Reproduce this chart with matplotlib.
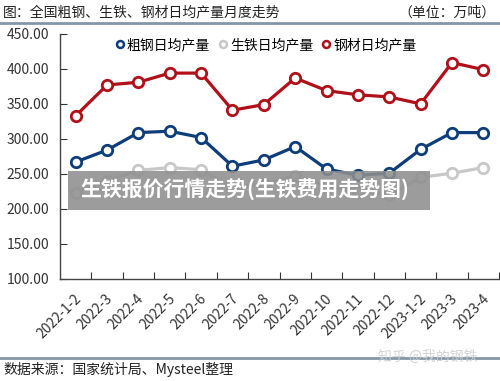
import matplotlib
matplotlib.use("Agg")
import matplotlib.pyplot as plt
from matplotlib.patches import Rectangle
from matplotlib.lines import Line2D

plt.rcParams["font.family"] = ["Noto Sans CJK SC", "DejaVu Sans"]

# 数据（万吨/日）
months = ["2022-1-2", "2022-3", "2022-4", "2022-5", "2022-6", "2022-7", "2022-8",
          "2022-9", "2022-10", "2022-11", "2022-12", "2023-1-2", "2023-3", "2023-4"]
crude_steel = [267, 284, 309, 311, 302, 261, 270, 289, 257, 248, 251, 285, 309, 309]
pig_iron = [223, 240, 255, 259, 256, 230, 236, 247, 232, 226, 220, 245, 251, 259]
steel_products = [333, 377, 381, 394, 394, 341, 349, 387, 369, 363, 360, 350, 409, 399]

series = [
    ("粗钢日均产量", crude_steel, "#0d3d7a"),
    ("生铁日均产量", pig_iron, "#c8c8c8"),
    ("钢材日均产量", steel_products, "#b01019"),
]

fig = plt.figure(figsize=(5.0, 3.81), dpi=100)
ax = fig.add_axes([0.12, 0.268, 0.878, 0.643])

x = list(range(len(months)))
for name, vals, col in series:
    ax.plot(x, vals, color=col, lw=2.3, marker="o", ms=7.5, mfc="white",
            mec=col, mew=2.0, label=name, zorder=3)

ax.set_ylim(100, 450)
ax.set_yticks([100, 150, 200, 250, 300, 350, 400, 450])
ax.set_yticklabels([f"{v:.2f}" for v in ax.get_yticks()], fontsize=10, color="#333333")
ax.set_xlim(-0.5, len(months) - 0.5)
ax.set_xticks([i + 0.5 for i in range(len(months))])
ax.set_xticklabels([])
ax.tick_params(axis="x", direction="in", length=5, color="#333333")
ax.tick_params(axis="y", direction="in", length=5, color="#333333", pad=8)
for i, m in enumerate(months):
    ax.text(i - 0.05, 82, m, rotation=45, ha="right", va="top",
            rotation_mode="anchor", fontsize=10, color="#333333")

for s in ["top", "right"]:
    ax.spines[s].set_visible(False)
for s in ["left", "bottom"]:
    ax.spines[s].set_color("#444444")
    ax.spines[s].set_linewidth(1.0)

handles = [Line2D([], [], color="none", marker="o", ms=5, mfc="white", mec=c, mew=1.8)
           for _, _, c in series]
fig.legend(handles, [n for n, _, _ in series], loc="center",
           bbox_to_anchor=(265 / 500, 1 - 45 / 381), ncol=3, frameon=False, fontsize=10,
           handletextpad=0.05, columnspacing=0.5, handlelength=0.9)

# 标题与来源
fig.text(0.006, 0.968, "图：全国粗钢、生铁、钢材日均产量月度走势", fontsize=10,
         va="center", ha="left", color="#222222")
fig.text(0.99, 0.968, "（单位：万吨）", fontsize=10, va="center", ha="right", color="#222222")
fig.add_artist(Line2D([0, 1], [0.94, 0.94], color="#8497a9", lw=2.0))
fig.add_artist(Line2D([0, 1], [0.06, 0.06], color="#8497a9", lw=2.0))
fig.text(0.006, 0.03, "数据来源：国家统计局、Mysteel整理", fontsize=10,
         va="center", ha="left", color="#222222")
fig.text(0.955, 0.063, "知乎 @我的钢铁", fontsize=10, va="center", ha="right",
         color="#d0d0d0", alpha=0.9)

# 水印横幅
fig.add_artist(Rectangle((68 / 500, 1 - 210 / 381), 362 / 500, 39 / 381,
                         transform=fig.transFigure, facecolor="#8f8f8f",
                         alpha=0.88, edgecolor="none", zorder=10))
fig.text(80 / 500, 1 - 190 / 381, "生铁报价行情走势(生铁费用走势图)", fontsize=15,
         fontweight="bold", color="white", va="center", ha="left", zorder=11)

fig.savefig("out.png", dpi=100)
